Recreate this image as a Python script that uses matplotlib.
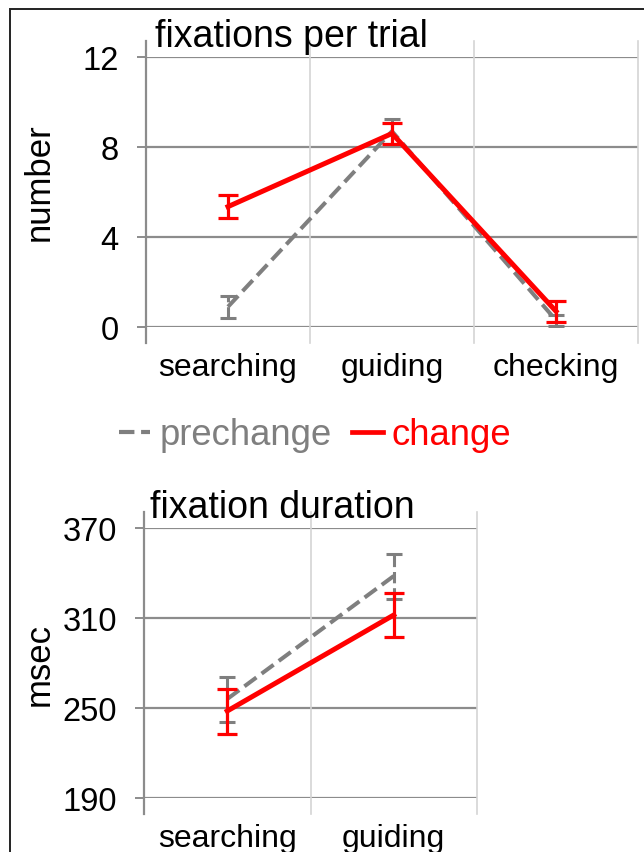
import matplotlib.pyplot as plt
import matplotlib.patches as mpatches
from matplotlib.lines import Line2D

plt.rcParams['font.family'] = ['Liberation Sans', 'DejaVu Sans']

# top panel: fixations per trial
phases_top = ['searching', 'guiding', 'checking']
fix_pre = [0.9, 8.7, 0.3]
fix_pre_err = [0.5, 0.55, 0.25]
fix_chg = [5.35, 8.6, 0.7]
fix_chg_err = [0.5, 0.48, 0.46]

# bottom panel: fixation duration
phases_bot = ['searching', 'guiding']
dur_pre = [256, 338]
dur_pre_err = [15, 15]
dur_chg = [248, 312]
dur_chg_err = [15, 14.5]

GRAY = '#7f7f7f'
RED = '#ff0000'
W, H = 644, 853

fig = plt.figure(figsize=(W / 100, H / 100), dpi=100)


def px_axes(left, right, top, bottom):
  return fig.add_axes([left / W, 1 - bottom / H, (right - left) / W, (bottom - top) / H])


def draw_panel(ax, cats, pre, pre_err, chg, chg_err, yticks, ylim, title):
  n = len(cats)
  ax.set_xlim(0, n)
  ax.set_ylim(*ylim)
  for s in ax.spines.values():
    s.set_visible(False)
  for yv in yticks:
    ax.axhline(yv, color='#8c8c8c', lw=1.6, zorder=1)
  # category boundaries, extending above and below like excel
  for i in range(n + 1):
    c = '#8c8c8c' if i == 0 else '#d4d4d4'
    ax.axvline(i, ymin=-0.06, ymax=1.06, color=c, lw=1.6 if i == 0 else 1.2,
               clip_on=False, zorder=1)
  x = [i + 0.5 for i in range(n)]
  eb = ax.errorbar(x, pre, yerr=pre_err, color=GRAY, lw=2.9, ls='--',
                   elinewidth=2.2, capsize=6, capthick=2.2, zorder=3)
  eb[2][0].set_linestyle('--')
  ax.errorbar(x, chg, yerr=chg_err, color=RED, lw=3.6,
              elinewidth=2.3, capsize=7, capthick=2.3, zorder=4)
  ax.set_yticks(yticks)
  ax.set_yticklabels([str(v) for v in yticks])
  ax.set_xticks(x)
  ax.set_xticklabels(cats)
  ax.tick_params(axis='y', length=6.5, width=1.4, color='#8c8c8c', pad=13, labelsize=23.5)
  ax.tick_params(axis='x', length=0, pad=18, labelsize=23)
  ax.text(0.018, 1.04, title, transform=ax.transAxes, fontsize=27,
          ha='left', va='baseline')


ax1 = px_axes(146, 638, 58, 328)
draw_panel(ax1, phases_top, fix_pre, fix_pre_err, fix_chg, fix_chg_err,
           [0, 4, 8, 12], (0, 12), 'fixations per trial')

ax2 = px_axes(144, 477, 529, 799)
draw_panel(ax2, phases_bot, dur_pre, dur_pre_err, dur_chg, dur_chg_err,
           [190, 250, 310, 370], (190, 370), 'fixation duration')

fig.text(39 / W, 1 - 182 / H, 'number', rotation=90, fontsize=25, ha='center', va='center')
fig.text(39 / W, 1 - 665 / H, 'msec', rotation=90, fontsize=25, ha='center', va='center')

handles = [Line2D([], [], color=GRAY, lw=3, ls='--'),
           Line2D([], [], color=RED, lw=3.4)]
leg = fig.legend(handles, ['prechange', 'change'], loc='center left',
                 bbox_to_anchor=(119 / W, 1 - 436 / H), ncol=2, frameon=False,
                 fontsize=26.3, handlelength=0.85, handletextpad=0.25,
                 columnspacing=0.55, borderpad=0, borderaxespad=0,
                 labelcolor='linecolor')

# outer frame (cut off at right and bottom)
fig.patches.append(mpatches.Rectangle((10 / W, -0.1), 1.2, 1 - 10 / H + 0.1,
                                      transform=fig.transFigure, fill=False,
                                      ec='#222222', lw=1.4))

fig.savefig('out.png', dpi=100)
